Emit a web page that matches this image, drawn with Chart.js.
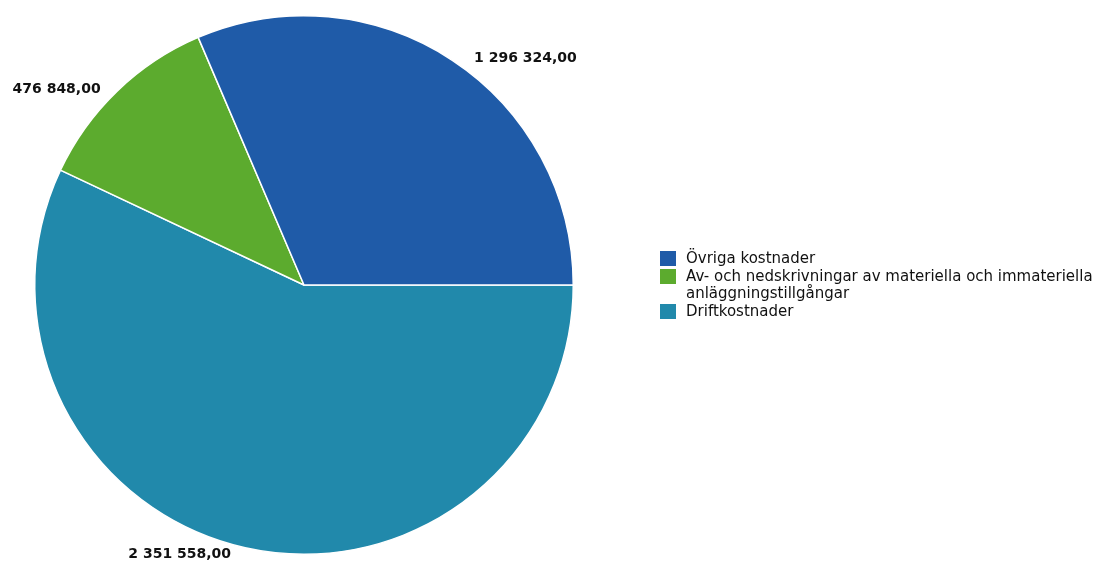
<!DOCTYPE html>
<html>
<head>
<meta charset="utf-8">
<script src="https://cdn.jsdelivr.net/npm/chart.js@4/dist/chart.umd.min.js"></script>
<style>
	html, body { margin: 0; padding: 0; background: #fff; }
	#wrap { position: relative; width: 1107px; height: 567px; }
	#legend { position: absolute; left: 660px; top: 250px; font-family: "DejaVu Sans", sans-serif; font-size: 15px; color: #111; line-height: 17.5px; }
	#legend div { position: relative; padding-left: 26px; }
	#legend span { position: absolute; left: 0; top: 1px; width: 16px; height: 15px; }
</style>
</head>
<body>
<div id="wrap">
	<canvas id="pieChart" width="1107" height="567"></canvas>
	<div id="legend"></div>
</div>
<script>
(() => {
	'use strict'

	// legend order as shown in the picture
	const categories = ['Övriga kostnader', 'Av- och nedskrivningar av materiella och immateriella\nanläggningstillgångar', 'Driftkostnader'];
	const amounts = [1296324.00, 476848.00, 2351558.00];
	const colors = ['#1f5ba8', '#5cab2e', '#2189ab'];

	// slices are drawn clockwise from 3 o'clock, so feed them in reverse
	const drawOrder = [2, 1, 0];

	function formatAmount(value) {
		const parts = value.toFixed(2).split('.');
		return parts[0].replace(/\B(?=(\d{3})+(?!\d))/g, ' ') + ',' + parts[1];
	}

	const outsideLabels = {
		id: 'outsideLabels',
		afterDatasetsDraw(chart) {
			const ctx = chart.ctx;
			const meta = chart.getDatasetMeta(0);
			ctx.save();
			ctx.font = 'bold 14px "DejaVu Sans", sans-serif';
			ctx.fillStyle = '#111';
			ctx.textBaseline = 'middle';
			meta.data.forEach(function(arc, i) {
				const p = arc.getProps(['x', 'y', 'startAngle', 'endAngle', 'outerRadius'], true);
				const mid = (p.startAngle + p.endAngle) / 2;
				const r = p.outerRadius + 5;
				const ax = p.x + Math.cos(mid) * r;
				const ay = p.y + Math.sin(mid) * r;
				const right = Math.cos(mid) >= 0;
				ctx.textAlign = right ? 'left' : 'right';
				ctx.fillText(formatAmount(chart.data.datasets[0].data[i]), ax + (right ? 19 : -13), ay + 2);
			});
			ctx.restore();
		}
	};

	new Chart(document.getElementById('pieChart'), {
		type: 'pie',
		data: {
			labels: drawOrder.map((i) => categories[i]),
			datasets: [{
				data: drawOrder.map((i) => amounts[i]),
				backgroundColor: drawOrder.map((i) => colors[i]),
				borderColor: '#ffffff',
				borderWidth: 1.5
			}]
		},
		options: {
			responsive: false,
			animation: false,
			rotation: 90,
			layout: {
				padding: { left: 34, right: 533, top: 15, bottom: 12 }
			},
			plugins: {
				legend: { display: false },
				tooltip: { enabled: false }
			}
		},
		plugins: [outsideLabels]
	});

	document.getElementById('legend').innerHTML = categories.map((name, i) => (
		`<div><span style="background:${colors[i]}"></span>${name.replace('\n', '<br>')}</div>`
	)).join('');
})()
</script>
</body>
</html>
